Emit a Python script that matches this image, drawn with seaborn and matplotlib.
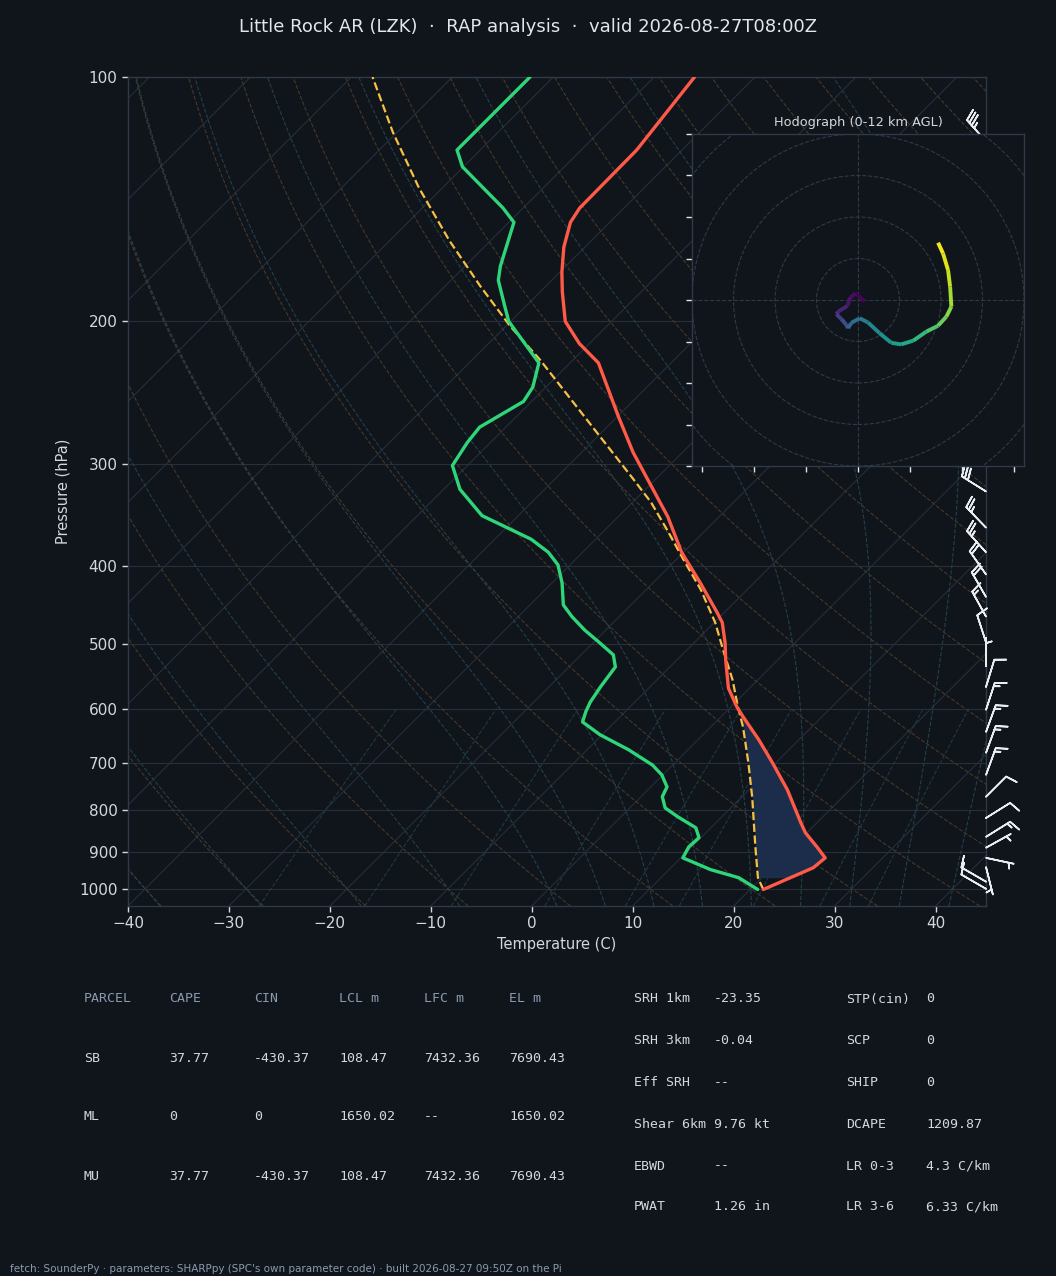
import numpy as np
import pandas as pd
import matplotlib
matplotlib.use("Agg")
import matplotlib.pyplot as plt
from matplotlib.collections import LineCollection
from matplotlib.ticker import FixedLocator, NullLocator, FixedFormatter, NullFormatter
import seaborn as sns

# %% colours
BG = "#10141b"
GRID = "#262f3a"
SPINE = "#2f3a48"
TXT = "#d3d8de"
DIM = "#8a9aae"
RED = "#ff5a48"
GREEN = "#2fd679"
YELLOW = "#f6c244"
FILL = "#1b2d4a"

# %% sounding (pressure hPa / temperature C)
temp_p = [1002, 942, 916, 888, 853, 829, 755, 700, 655, 614, 597, 566, 522, 498, 470, 456,
          420, 385, 348, 313, 290, 262, 225, 213, 200, 184, 174, 162, 151, 145, 123, 100]
temp_c = [21.3, 24.1, 24.3, 22.4, 19.85, 18.4, 13.8, 9.7, 6.0, 2.2, 0.6, -2.1, -5.2, -6.9, -9.2, -10.8,
          -15.3, -20.2, -25.1, -30.8, -34.9, -39.9, -47.2, -51.0, -54.6, -57.8, -59.8, -62.1, -63.9, -64.4,
          -64.5, -66.0]

dwpt_p = [1002, 969, 947, 916, 888, 865, 841, 815, 795, 770, 749, 724, 704, 674, 646, 623, 605, 589,
          564, 533, 515, 498, 480, 462, 447, 420, 399, 385, 371, 347, 322, 301, 282, 270, 251, 241,
          225, 200, 192, 178, 171, 151, 145, 129, 123, 100]
dwpt_c = [20.75, 17.7, 14.1, 10.2, 9.7, 9.8, 8.5, 5.6, 3.5, 2.1, 1.6, -0.1, -2.0, -5.9, -10.2, -13.2,
          -13.9, -14.4, -14.9, -15.4, -16.8, -19.3, -22.1, -24.7, -26.7, -29.0, -31.2, -33.4, -36.4,
          -43.6, -48.4, -51.5, -52.3, -52.6, -50.8, -51.3, -53.1, -60.2, -62.0, -65.3, -66.5, -69.5,
          -72.0, -80.1, -82.3, -82.3]

parcel_p = [1002, 969, 888, 770, 700, 632, 597, 553, 508, 470, 428, 393, 361, 334, 313, 223, 203,
            181, 159, 137, 117, 100]
parcel_c = [21.3, 19.6, 16.3, 11.0, 7.3, 3.2, 0.7, -2.5, -6.4, -9.9, -14.6, -19.3, -23.9, -28.2,
            -32.2, -53.3, -59.5, -66.5, -74.1, -82.3, -90.4, -97.9]

# wind barbs (hPa, direction deg, speed kt)
barb_p = [1000, 980, 940, 916, 890, 863, 818, 770, 724, 680, 641, 602, 564, 532, 497, 462, 437,
          410, 385, 359, 324, 300, 275, 250, 225, 200, 180, 160, 140, 120]
barb_dir = [300, 300, 166, 102, 61, 58, 58, 45, 20, 20, 20, 18, 17, 0, 342, 331, 330, 325, 318,
            316, 302, 305, 305, 308, 310, 310, 312, 314, 316, 318]
barb_kt = [10, 10, 5, 5, 5, 15, 10, 10, 15, 15, 15, 15, 10, 5, 10, 15, 20, 20, 25, 25, 30, 30, 30,
           35, 35, 35, 35, 35, 35, 35]

# hodograph (kt) with height (km AGL)
hodo_u = [1.6, -0.56, -1.85, -2.57, -4.8, -5.2, -4.0, -2.8, -2.4, -1.6, 0.4, 2.4, 5.2, 8.0, 10.4,
          13.3, 16.5, 19.3, 21.3, 22.5, 22.2, 21.7, 20.5, 19.3]
hodo_v = [-0.4, 1.6, 0.64, -1.45, -2.8, -3.4, -4.6, -6.0, -6.8, -5.5, -4.4, -5.4, -8.0, -10.3, -10.7,
          -9.8, -7.6, -6.2, -4.0, -1.6, 3.2, 7.2, 11.2, 13.8]
hodo_h = [0.0, 0.25, 0.5, 0.9, 1.4, 1.8, 2.5, 3.2, 3.6, 4.0, 4.6, 5.2, 5.8, 6.4, 6.9, 7.5, 8.3, 9.0,
          9.6, 10.1, 10.7, 11.2, 11.6, 12.0]

# parameter tables
parcel_header = ["PARCEL", "CAPE", "CIN", "LCL m", "LFC m", "EL m"]
parcel_rows = [["SB", "37.77", "-430.37", "108.47", "7432.36", "7690.43"],
               ["ML", "0", "0", "1650.02", "--", "1650.02"],
               ["MU", "37.77", "-430.37", "108.47", "7432.36", "7690.43"]]
kin_names = ["SRH 1km", "SRH 3km", "Eff SRH", "Shear 6km", "EBWD", "PWAT"]
kin_vals = ["-23.35", "-0.04", "--", "9.76 kt", "--", "1.26 in"]
comp_names = ["STP(cin)", "SCP", "SHIP", "DCAPE", "LR 0-3", "LR 3-6"]
comp_vals = ["0", "0", "0", "1209.87", "4.3 C/km", "6.33 C/km"]

title = "Little Rock AR (LZK)  \u00b7  RAP analysis  \u00b7  valid 2026-08-27T08:00Z"
footer = ("fetch: SounderPy \u00b7 parameters: SHARPpy (SPC's own parameter code) \u00b7 "
          "built 2026-08-27 09:50Z on the Pi")

# %% figure
sns.set_theme(style="dark")
plt.rcParams["font.family"] = ["DejaVu Sans"]
plt.rcParams["axes.unicode_minus"] = True

W, H = 1056, 1276
fig = plt.figure(figsize=(W / 100, H / 100), dpi=100, facecolor=BG)

def px_rect(x0, y0, x1, y1):
    return [x0 / W, 1 - y1 / H, (x1 - x0) / W, (y1 - y0) / H]

ax = fig.add_axes(px_rect(128, 77, 986, 906), facecolor=BG)

P_BOT, P_TOP = 1050.0, 100.0
T_MIN, T_MAX = -40.0, 45.0
ax_w, ax_h = 986 - 128, 906 - 77
SKEW = (ax_h / np.log10(P_BOT / P_TOP)) / (ax_w / (T_MAX - T_MIN))  # 45 deg


def skew_x(t, p):
    return np.asarray(t, dtype=float) + SKEW * np.log10(P_BOT / np.asarray(p, dtype=float))


ax.set_yscale("log")
ax.set_ylim(P_BOT, P_TOP)
ax.set_xlim(T_MIN, T_MAX)

# background: isotherms, dry/moist adiabats, mixing ratio lines
pp = np.geomspace(P_BOT, P_TOP, 120)
for t in np.arange(-160, 50, 10):
    ax.plot(skew_x(np.full_like(pp, t), pp), pp, color=GRID, lw=0.8, zorder=1)
for pr in [100, 200, 300, 400, 500, 600, 700, 800, 900, 1000]:
    ax.axhline(pr, color=GRID, lw=0.8, zorder=1)

for t0 in np.arange(-40, 201, 10):
    td = (t0 + 273.15) * (pp / 1000.0) ** 0.2857 - 273.15
    ax.plot(skew_x(td, pp), pp, color="#453929", lw=0.8, ls="--", zorder=1)

Rd, Cp, Lv, EPS = 287.04, 1005.7, 2.501e6, 0.622


def sat_mr(tk, p):
    es = 6.112 * np.exp(17.67 * (tk - 273.15) / (tk - 29.65))
    return EPS * es / (p - es)


def dtdp(tk, p):
    rs = sat_mr(tk, p)
    return (Rd * tk + Lv * rs) / (Cp + Lv * Lv * rs * EPS / (Rd * tk * tk)) / p


def moist_curve(t0, pgrid):
    tk = np.empty_like(pgrid)
    tk[0] = t0 + 273.15
    for i in range(1, len(pgrid)):
        dp = pgrid[i] - pgrid[i - 1]
        k1 = dtdp(tk[i - 1], pgrid[i - 1])
        k2 = dtdp(tk[i - 1] + 0.5 * dp * k1, pgrid[i - 1] + 0.5 * dp)
        k3 = dtdp(tk[i - 1] + 0.5 * dp * k2, pgrid[i - 1] + 0.5 * dp)
        k4 = dtdp(tk[i - 1] + dp * k3, pgrid[i])
        tk[i] = tk[i - 1] + dp / 6 * (k1 + 2 * k2 + 2 * k3 + k4)
    return tk - 273.15


p_up = np.linspace(1000, P_TOP, 200)
p_dn = np.linspace(1000, P_BOT, 10)
moist_t0 = np.concatenate((np.arange(-40, 0, 10), np.arange(0, 46, 5)))
for t0 in moist_t0:
    up = moist_curve(t0, p_up)
    dn = moist_curve(t0, p_dn)
    pm = np.concatenate((p_dn[::-1], p_up[1:]))
    tm = np.concatenate((dn[::-1], up[1:]))
    ax.plot(skew_x(tm, pm), pm, color="#24404a", lw=0.8, ls="--", zorder=1)

p_mix = np.linspace(P_BOT, 600, 40)
for w in [0.0004, 0.001, 0.002, 0.004, 0.007, 0.01, 0.016, 0.024, 0.032]:
    e = p_mix * w / (EPS + w)
    lg = np.log(e / 6.112)
    tdw = 243.5 * lg / (17.67 - lg)
    ax.plot(skew_x(tdw, p_mix), p_mix, color="#1f3a42", lw=0.8, ls="--", zorder=1)

# CIN area between environment and parcel
pg = np.geomspace(969, 598, 200)
lp = np.log(pg)
t_env = np.interp(lp, np.log(temp_p[::-1]), temp_c[::-1])
t_par = np.interp(lp, np.log(parcel_p[::-1]), parcel_c[::-1])
ax.fill_betweenx(pg, skew_x(t_par, pg), skew_x(t_env, pg), where=t_env >= t_par,
                 color=FILL, lw=0, zorder=2)

# profiles
df_t = pd.DataFrame({"x": skew_x(temp_c, temp_p), "p": temp_p})
df_d = pd.DataFrame({"x": skew_x(dwpt_c, dwpt_p), "p": dwpt_p})
df_pc = pd.DataFrame({"x": skew_x(parcel_c, parcel_p), "p": parcel_p})
sns.lineplot(data=df_t, x="x", y="p", sort=False, estimator=None, color=RED, lw=2.4, ax=ax, zorder=4)
sns.lineplot(data=df_d, x="x", y="p", sort=False, estimator=None, color=GREEN, lw=2.4, ax=ax, zorder=4)
sns.lineplot(data=df_pc, x="x", y="p", sort=False, estimator=None, color=YELLOW, lw=1.6, ax=ax,
             zorder=3, linestyle="--")

# wind barbs on the right edge
bd = np.deg2rad(barb_dir)
bu = -np.asarray(barb_kt) * np.sin(bd)
bv = -np.asarray(barb_kt) * np.cos(bd)
ax.barbs(np.ones(len(barb_p)), barb_p, bu, bv, transform=ax.get_yaxis_transform(),
         clip_on=False, length=6.4, color="#e9edf1", linewidth=1.2, zorder=5)

# axes cosmetics
ax.yaxis.set_major_locator(FixedLocator([100, 200, 300, 400, 500, 600, 700, 800, 900, 1000]))
ax.yaxis.set_major_formatter(FixedFormatter(["100", "200", "300", "400", "500", "600", "700",
                                             "800", "900", "1000"]))
ax.yaxis.set_minor_locator(NullLocator())
ax.yaxis.set_minor_formatter(NullFormatter())
ax.set_xticks(np.arange(-40, 41, 10))
ax.tick_params(axis="both", colors=TXT, labelsize=11, length=4, width=1, direction="out",
               left=True, bottom=True)
ax.set_xlabel("Temperature (C)", color=TXT, fontsize=10.5, labelpad=4)
ax.set_ylabel("Pressure (hPa)", color=TXT, fontsize=10.5, labelpad=6)
ax.grid(False)
for s in ax.spines.values():
    s.set_color(SPINE)
    s.set_linewidth(1)

fig.text(528 / W, 1 - 27 / H, title, color="#e3e7eb", fontsize=13, ha="center", va="center")

# %% hodograph inset
hx = fig.add_axes(px_rect(692, 134, 1024, 466), facecolor=BG, zorder=10)
hx.set_xlim(-40, 40)
hx.set_ylim(-40, 40)
for r in [10, 20, 30, 40, 50]:
    hx.add_patch(plt.Circle((0, 0), r, fill=False, ls="--", lw=0.8, color=SPINE))
hx.axhline(0, color=SPINE, lw=0.8, ls="--")
hx.axvline(0, color=SPINE, lw=0.8, ls="--")
pts = np.column_stack([hodo_u, hodo_v]).reshape(-1, 1, 2)
segs = np.concatenate([pts[:-1], pts[1:]], axis=1)
lc = LineCollection(segs, cmap="viridis", norm=plt.Normalize(0, 12), lw=2.8, capstyle="butt")
lc.set_array(np.asarray(hodo_h[:-1]) * 0.5 + np.asarray(hodo_h[1:]) * 0.5)
hx.add_collection(lc)
hx.set_xticks([-37.5, -25, -12.5, 0, 12.5, 25, 37.5])
hx.set_yticks(np.arange(-40, 41, 10))
hx.set_xticklabels([])
hx.set_yticklabels([])
hx.tick_params(colors="#e1e5ea", length=4.5, width=1, direction="out", left=True, bottom=True)
hx.grid(False)
for s in hx.spines.values():
    s.set_color(SPINE)
    s.set_linewidth(1)
hx.set_title("Hodograph (0-12 km AGL)", color=TXT, fontsize=9.3, pad=6)

# %% parameter tables
MONO = "DejaVu Sans Mono"
col_x = [84, 169, 254, 339, 424, 509]
for cx, head in zip(col_x, parcel_header):
    fig.text(cx / W, 1 - 999 / H, head, color=DIM, family=MONO, fontsize=9.5, va="center")
for ry, row in zip([1058, 1117, 1176], parcel_rows):
    for cx, val in zip(col_x, row):
        fig.text(cx / W, 1 - ry / H, val, color=TXT, family=MONO, fontsize=9.5, va="center")

row_y = [999, 1041, 1083, 1124, 1166, 1207]
for ry, n1, v1, n2, v2 in zip(row_y, kin_names, kin_vals, comp_names, comp_vals):
    for cx, s in zip([634, 714, 846, 926], [n1, v1, n2, v2]):
        fig.text(cx / W, 1 - ry / H, s, color=TXT, family=MONO, fontsize=9.5, va="center")

fig.text(10 / W, 1 - 1269 / H, footer, color=DIM, fontsize=7.5, va="center")

fig.savefig("out.png", dpi=100, facecolor=BG)
